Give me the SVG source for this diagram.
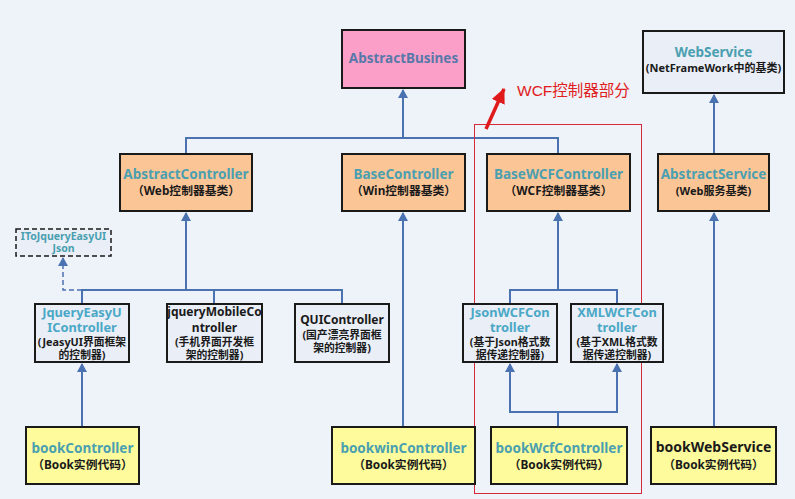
<svg xmlns="http://www.w3.org/2000/svg" width="795" height="499" viewBox="0 0 795 499">
<style>
.bx{stroke:#1a1a1a;stroke-width:2}
.t{font-family:"Noto Sans","Noto Sans CJK SC",sans-serif;font-weight:bold;text-anchor:middle}
.ti{fill:#4a9fb0;font-size:13.5px}
.sub{fill:#1a1a1a;font-size:11px}
.sb{fill:#1a1a1a;font-size:11.8px}
.s3{fill:#1a1a1a;font-size:10.8px}
.c{fill:none;stroke:#4a72b0;stroke-width:2}
</style>
<defs>
<marker id="ah" markerWidth="10" markerHeight="10" refX="8" refY="5" orient="auto" markerUnits="userSpaceOnUse"><path d="M0,0 L9,5 L0,10 z" fill="#4a72b0"/></marker>
<marker id="rh" markerWidth="16" markerHeight="16" refX="14" refY="8" orient="auto" markerUnits="userSpaceOnUse"><path d="M0,1 L15,8 L0,15 z" fill="#e01a1a"/></marker>
</defs>
<rect width="795" height="499" fill="#eef2f9"/>
<g id="connectors">
<path class="c" d="M186,154 V138 H558 V154"/>
<path class="c" d="M403,138 V90" marker-end="url(#ah)"/>
<path class="c" d="M714,154 V95" marker-end="url(#ah)"/>
<path class="c" d="M82,304 V290 H342 V304 M214,290 V304"/>
<path class="c" d="M186,290 V213" marker-end="url(#ah)"/>
<path d="M82,290 H63 V258" fill="none" stroke="#4a72b0" stroke-width="1.5" stroke-dasharray="5,3" marker-end="url(#ah)"/>
<path class="c" d="M510,304 V290 H617 V304"/>
<path class="c" d="M558,290 V213" marker-end="url(#ah)"/>
<path class="c" d="M82,427 V364" marker-end="url(#ah)"/>
<path class="c" d="M403,427 V213" marker-end="url(#ah)"/>
<path class="c" d="M714,427 V213" marker-end="url(#ah)"/>
<path class="c" d="M558,427 V412 H510 V364 M558,412 H617 V364"/>
<path class="c" d="M510,380 V364" marker-end="url(#ah)"/>
<path class="c" d="M617,380 V364" marker-end="url(#ah)"/>
</g>
<g id="wcf-region">
<rect x="474.5" y="124.5" width="167" height="369" fill="none" stroke="#d42a3a" stroke-width="1"/>
<line x1="486" y1="129" x2="504" y2="89" stroke="#e01a1a" stroke-width="3.5" marker-end="url(#rh)"/>
<text x="517" y="96" font-family="Liberation Sans,'Noto Sans CJK SC',sans-serif" font-size="15.5" fill="#e02020">WCF控制器部分</text>
</g>
<g id="AbstractBusines">
<rect class="bx" x="342" y="30" width="123" height="58" fill="#fb9fc9"/>
<text class="t" x="403.5" y="63" font-size="13.5" fill="#5878a8">AbstractBusines</text>
</g>
<g id="WebService">
<rect class="bx" x="643" y="31" width="141" height="62" fill="#e9eef7"/>
<text class="t ti" x="713.5" y="57">WebService</text>
<text class="t sub" x="713.5" y="72">(NetFrameWork中的基类)</text>
</g>
<g id="AbstractController">
<rect class="bx" x="120" y="154" width="132" height="57" fill="#fcc596"/>
<text class="t ti" x="186" y="179">AbstractController</text>
<text class="t sb" x="186" y="195">（Web控制器基类）</text>
</g>
<g id="BaseController">
<rect class="bx" x="342" y="154" width="123" height="57" fill="#fcc596"/>
<text class="t ti" x="403.5" y="179">BaseController</text>
<text class="t sb" x="403.5" y="195">（Win控制器基类）</text>
</g>
<g id="BaseWCFController">
<rect class="bx" x="487" y="154" width="143" height="57" fill="#fcc596"/>
<text class="t ti" x="558.5" y="179">BaseWCFController</text>
<text class="t sb" x="558.5" y="195">（WCF控制器基类）</text>
</g>
<g id="AbstractService">
<rect class="bx" x="658" y="154" width="111" height="57" fill="#fcc596"/>
<text class="t ti" x="713.5" y="179">AbstractService</text>
<text class="t sub" x="713.5" y="195">(Web服务基类)</text>
</g>
<g id="IToJqueryEasyUIJson">
<rect x="16" y="229" width="95" height="27" fill="#e9eef7" stroke="#1a1a1a" stroke-width="1.5" stroke-dasharray="5,3"/>
<text class="t" x="63.5" y="240" font-size="10.5" fill="#4a9fb0">IToJqueryEasyUI</text>
<text class="t" x="63.5" y="252" font-size="10.5" fill="#4a9fb0">Json</text>
</g>
<g id="JqueryEasyUIController">
<rect class="bx" x="35" y="304" width="94" height="58" fill="#e9eef7"/>
<text class="t" x="82" y="317" font-size="12.8" fill="#4aa8c6">JqueryEasyU</text>
<text class="t" x="82" y="332" font-size="12.8" fill="#4aa8c6">IController</text>
<text class="t s3" x="82" y="346">(JeasyUI界面框架</text>
<text class="t s3" x="82" y="359">的控制器)</text>
</g>
<g id="jqueryMobileController">
<rect class="bx" x="167" y="304" width="95" height="58" fill="#e9eef7"/>
<text class="t" x="214.5" y="316" font-size="12" fill="#1a1a1a">jqueryMobileCo</text>
<text class="t" x="214.5" y="332" font-size="12" fill="#1a1a1a">ntroller</text>
<text class="t s3" x="214.5" y="346">(手机界面开发框</text>
<text class="t s3" x="214.5" y="359">架的控制器)</text>
</g>
<g id="QUIController">
<rect class="bx" x="295" y="304" width="94" height="58" fill="#e9eef7"/>
<text class="t" x="342" y="324" font-size="12" fill="#1a1a1a">QUIController</text>
<text class="t s3" x="342" y="339">(国产漂亮界面框</text>
<text class="t s3" x="342" y="352">架的控制器)</text>
</g>
<g id="JsonWCFController">
<rect class="bx" x="463" y="304" width="94" height="58" fill="#e9eef7"/>
<text class="t" x="510" y="317" font-size="12.8" fill="#4aa8c6">JsonWCFCon</text>
<text class="t" x="510" y="332" font-size="12.8" fill="#4aa8c6">troller</text>
<text class="t s3" x="510" y="346">(基于Json格式数</text>
<text class="t s3" x="510" y="359">据传递控制器)</text>
</g>
<g id="XMLWCFController">
<rect class="bx" x="571" y="304" width="92" height="58" fill="#e9eef7"/>
<text class="t" x="617" y="317" font-size="12.8" fill="#4aa8c6">XMLWCFCon</text>
<text class="t" x="617" y="332" font-size="12.8" fill="#4aa8c6">troller</text>
<text class="t s3" x="617" y="346">(基于XML格式数</text>
<text class="t s3" x="617" y="359">据传递控制器)</text>
</g>
<g id="bookController">
<rect class="bx" x="26" y="427" width="113" height="57" fill="#fdfb9c"/>
<text class="t ti" x="82.5" y="453">bookController</text>
<text class="t sb" x="82.5" y="469">（Book实例代码）</text>
</g>
<g id="bookwinController">
<rect class="bx" x="332" y="427" width="143" height="57" fill="#fdfb9c"/>
<text class="t ti" x="403.5" y="453">bookwinController</text>
<text class="t sb" x="403.5" y="469">（Book实例代码）</text>
</g>
<g id="bookWcfController">
<rect class="bx" x="491" y="427" width="136" height="57" fill="#fdfb9c"/>
<text class="t ti" x="559" y="453">bookWcfController</text>
<text class="t sb" x="559" y="469">（Book实例代码）</text>
</g>
<g id="bookWebService">
<rect class="bx" x="651" y="427" width="125" height="57" fill="#fdfb9c"/>
<text class="t" x="713.5" y="452" font-size="14" fill="#1a1a1a">bookWebService</text>
<text class="t sb" x="713.5" y="469">（Book实例代码）</text>
</g>
</svg>
